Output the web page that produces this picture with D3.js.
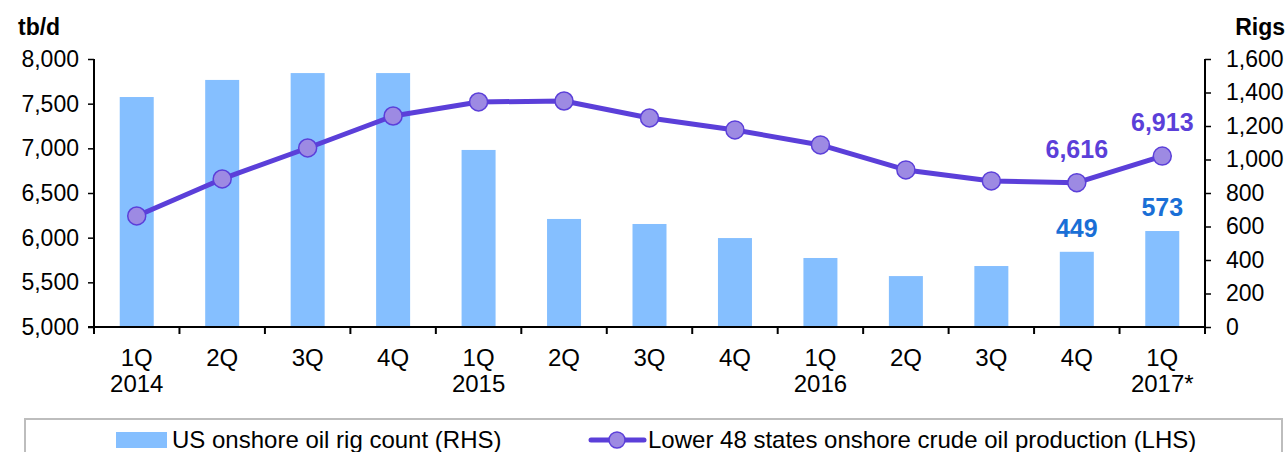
<!DOCTYPE html>
<html><head><meta charset="utf-8">
<script src="https://cdn.jsdelivr.net/npm/d3@7"></script>
<style>
body{margin:0;background:#fff;}
svg{display:block;font-family:"Liberation Sans",Arial,sans-serif;}
</style></head>
<body><svg id="c" width="1288" height="452"></svg>
<script>
const quarters = ["1Q","2Q","3Q","4Q","1Q","2Q","3Q","4Q","1Q","2Q","3Q","4Q","1Q"];
const years = ["2014","","","","2015","","","","2016","","","","2017*"];
const rigs = [1373,1475,1516,1516,1057,645,615,531,412,304,364,449,573];
const production = [6243,6657,7004,7362,7519,7530,7340,7206,7038,6758,6635,6616,6913];
const leftTicks = [5000,5500,6000,6500,7000,7500,8000];
const rightTicks = [0,200,400,600,800,1000,1200,1400,1600];
const labeledIdx = [11,12];

const svg = d3.select("#c");
const L=94, R=1205, T=59, B=327;
const fs = 23, fsX = 24, fsLeg = 24, fsLab = 25;
const x = d3.scaleBand().domain(d3.range(quarters.length)).range([L,R]).paddingInner(0).paddingOuter(0);
const yL = d3.scaleLinear().domain([5000,8000]).range([B,T]);
const yR = d3.scaleLinear().domain([0,1600]).range([B,T]);
const fmt = d3.format(",");
const lineColor="#5b3fd9", markerFill="#9d8ae3", barColor="#85bfff", labelBlue="#1a6fd6";

// bars
const bw = 34;
svg.append("g").selectAll("rect").data(rigs).join("rect")
  .attr("x",(d,i)=>x(i)+x.bandwidth()/2-bw/2).attr("width",bw)
  .attr("y",d=>yR(d)).attr("height",d=>B-yR(d)).attr("fill",barColor);

// axes
const axL = svg.append("g").attr("transform",`translate(${L},0)`)
  .call(d3.axisLeft(yL).tickValues(leftTicks).tickFormat(fmt).tickSize(6).tickPadding(9));
const axR = svg.append("g").attr("transform",`translate(${R},0)`)
  .call(d3.axisRight(yR).tickValues(rightTicks).tickFormat(fmt).tickSize(6).tickPadding(15));
const bounds = d3.range(quarters.length+1).map(i=> i<quarters.length? x(i): R);
const axB = svg.append("g").attr("transform",`translate(0,${B})`);
axB.append("line").attr("x1",L-6).attr("x2",R).attr("y1",0).attr("y2",0).attr("stroke","#000").attr("stroke-width",2);
axB.selectAll("line.t").data(bounds).join("line").attr("class","t")
  .attr("x1",d=>d).attr("x2",d=>d).attr("y1",0).attr("y2",7).attr("stroke","#000").attr("stroke-width",2);
[axL,axR].forEach(a=>{
  a.select(".domain").attr("stroke","#000").attr("stroke-width",2);
  a.selectAll(".tick line").attr("stroke","#000").attr("stroke-width",1.5);
  a.selectAll("text").attr("font-size",fs).attr("fill","#000").attr("font-family","Liberation Sans, Arial, sans-serif");
});
axL.select(".domain").attr("d",`M0,${T}V${B}`);
axR.select(".domain").attr("d",`M0,${T}V${B+7}`);
axB.selectAll("text.q").data(quarters).join("text").attr("class","q")
  .attr("x",(d,i)=>x(i)+x.bandwidth()/2).attr("y",39).attr("text-anchor","middle")
  .attr("font-size",fsX).text(d=>d);
axB.selectAll("text.yr").data(years).join("text").attr("class","yr")
  .attr("x",(d,i)=>x(i)+x.bandwidth()/2).attr("y",65).attr("text-anchor","middle")
  .attr("font-size",fsX).text(d=>d);

// unit titles
svg.append("text").attr("x",18).attr("y",35).attr("font-size",fs).attr("font-weight","bold").text("tb/d");
svg.append("text").attr("x",1285).attr("y",35).attr("text-anchor","end").attr("font-size",fs).attr("font-weight","bold").text("Rigs");

// line
const cx=(d,i)=>x(i)+x.bandwidth()/2;
svg.append("path").datum(production)
  .attr("d",d3.line().x(cx).y(d=>yL(d)))
  .attr("fill","none").attr("stroke",lineColor).attr("stroke-width",5).attr("stroke-linejoin","round");
svg.append("g").selectAll("circle").data(production).join("circle")
  .attr("cx",cx).attr("cy",d=>yL(d)).attr("r",9)
  .attr("fill",markerFill).attr("stroke",lineColor).attr("stroke-width",1.5);

// data labels
svg.append("g").selectAll("text").data(labeledIdx).join("text")
  .attr("x",i=>cx(0,i)).attr("y",i=>yL(production[i])-25).attr("text-anchor","middle")
  .attr("font-size",fsLab).attr("font-weight","bold").attr("fill",lineColor).text(i=>fmt(production[i]));
svg.append("g").selectAll("text").data(labeledIdx).join("text")
  .attr("x",i=>cx(0,i)).attr("y",i=>yR(rigs[i])-15).attr("text-anchor","middle")
  .attr("font-size",fsLab).attr("font-weight","bold").attr("fill",labelBlue).text(i=>fmt(rigs[i]));

// legend
const lg = svg.append("g");
lg.append("rect").attr("x",25).attr("y",419).attr("width",1257).attr("height",50)
  .attr("fill","#fff").attr("stroke","#bdbdbd").attr("stroke-width",2);
lg.append("rect").attr("x",116).attr("y",432).attr("width",51).attr("height",16).attr("fill",barColor);
lg.append("text").attr("x",172).attr("y",448).attr("font-size",fsLeg).text("US onshore oil rig count (RHS)");
lg.append("line").attr("x1",591).attr("x2",644).attr("y1",440).attr("y2",440).attr("stroke",lineColor).attr("stroke-width",5).attr("stroke-linecap","round");
lg.append("circle").attr("cx",617).attr("cy",440).attr("r",8).attr("fill",markerFill).attr("stroke",lineColor).attr("stroke-width",1.5);
lg.append("text").attr("x",648).attr("y",448).attr("font-size",fsLeg).text("Lower 48 states onshore crude oil production (LHS)");
</script></body></html>
